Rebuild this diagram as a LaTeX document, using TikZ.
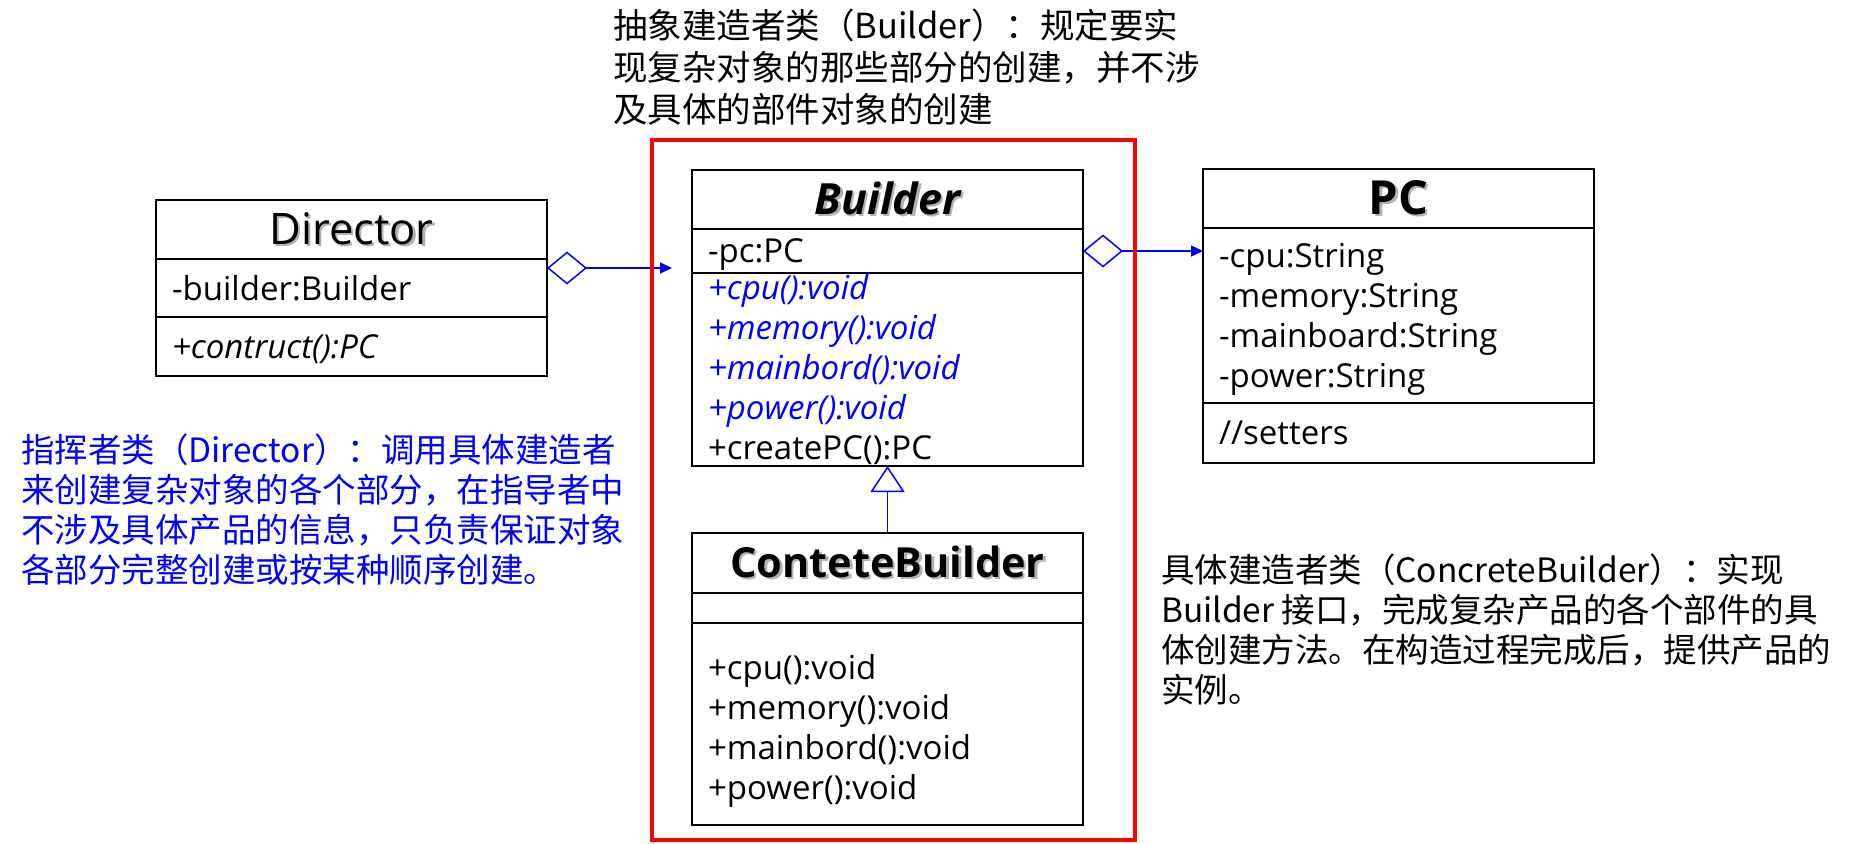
\documentclass[tikz,border=0pt]{standalone}
\usepackage{fontspec}
\setmainfont{Open Sans}
\newfontfamily\cjkfont{Noto Sans CJK SC}
\usepackage{xcolor}
\usetikzlibrary{arrows.meta, positioning}
\newcommand{\shadowtext}[1]{\makebox[0pt][l]{\hspace{2.5pt}\raisebox{-2.5pt}{\textcolor{black!30}{#1}}}#1}
\newcommand{\absop}[1]{\textcolor{blue}{\itshape #1}}

\begin{document}
\begin{tikzpicture}[
      x=1pt, y=-1pt,
      every node/.style = {inner sep=0pt, outer sep=0pt},
      umlbox/.style = {
        rectangle, draw=black, line width=1.6pt,
        text width=359pt, inner xsep=16pt, align=left,
        font=\fontsize{33}{40}\selectfont
      },
      umlrows/.style = {umlbox, text height=32pt},
      umlline/.style = {umlbox, text depth=0pt},
      umlhead/.style = {umlbox, align=center,
        font=\fontsize{43}{48}\selectfont\bfseries},
      annot/.style = {anchor=north west, align=left,
        font=\cjkfont\fontsize{33.5}{40}\selectfont},
      link/.style = {draw=blue, line width=1.5pt},
      aggr/.style = {link,
        {Diamond[open, length=40pt, width=33pt]}-{Triangle[length=12pt, width=11pt]}},
      inherit/.style = {link, -{Triangle[open, length=26pt, width=34pt]}},
      redframe/.style = {draw=red, line width=4pt},
    ]
    \useasboundingbox (0,0) rectangle (1862,843);
    \node[umlhead, minimum height=59pt, anchor=north west] (bldHead) at (692,170)
      {\shadowtext{\itshape Builder}};
    \node[umlline, minimum height=44pt, below=0pt of bldHead] (bldAttr) {-pc:PC};
    \node[umlbox, minimum height=193pt, below=0pt of bldAttr] (bldOps)
      {\absop{+cpu():void}\\
       \absop{+memory():void}\\
       \absop{+mainbord():void}\\
       \absop{+power():void}\\
       +createPC():PC};
    \node[umlhead, minimum height=60pt, below=67pt of bldOps,
          font=\fontsize{41.5}{48}\selectfont\bfseries] (cbHead)
      {\shadowtext{ConteteBuilder}};
    \node[umlbox, minimum height=30pt, below=0pt of cbHead] (cbAttr) {};
    \node[umlrows, minimum height=202pt, below=0pt of cbAttr, text height=38pt] (cbOps)
      {+cpu():void\\
       +memory():void\\
       +mainbord():void\\
       +power():void};
    \node[umlhead, minimum height=59pt, anchor=north west,
          font=\fontsize{47}{48}\selectfont\bfseries] (pcHead) at (1203,169)
      {\shadowtext{PC}};
    \node[umlrows, minimum height=175pt, below=0pt of pcHead] (pcAttr)
      {-cpu:String\\
       -memory:String\\
       -mainboard:String\\
       -power:String};
    \node[umlbox, minimum height=60pt, below=0pt of pcAttr] (pcOps) {//setters};
    \node[umlhead, minimum height=59pt, anchor=north west,
          font=\fontsize{43.5}{48}\selectfont] (dirHead) at (156,200)
      {\shadowtext{Director}};
    \node[umlbox, minimum height=58pt, below=0pt of dirHead] (dirAttr) {-builder:Builder};
    \node[umlline, minimum height=59pt, below=0pt of dirAttr] (dirOps)
      {\textit{+contruct():PC}};
    \node[annot, font=\cjkfont\fontsize{34.5}{42}\selectfont] (bldNote) at (613,9)
      {抽象建造者类（Builder）：规定要实\\
       现复杂对象的那些部分的创建，并不涉\\
       及具体的部件对象的创建};
    \node[annot, text=blue] (dirNote) at (21,434)
      {指挥者类（Director）：调用具体建造者\\
       来创建复杂对象的各个部分，在指导者中\\
       不涉及具体产品的信息，只负责保证对象\\
       各部分完整创建或按某种顺序创建。};
    \node[annot] (cbNote) at (1161,554)
      {具体建造者类（ConcreteBuilder）：实现\\
       Builder 接口，完成复杂产品的各个部件的具\\
       体创建方法。在构造过程完成后，提供产品的\\
       实例。};
    \coordinate (dirOut) at ([yshift=-9pt]dirAttr.north east);
    \draw[aggr, shorten >=20pt] (dirOut) -- (dirOut -| bldAttr.west);
    \draw[aggr] (bldAttr.east) -- (bldAttr.east -| pcAttr.west);
    \draw[inherit] (cbHead) -- (bldOps);
    \draw[redframe] (652,140) rectangle (1135,840);
    \end{tikzpicture}
\end{document}
